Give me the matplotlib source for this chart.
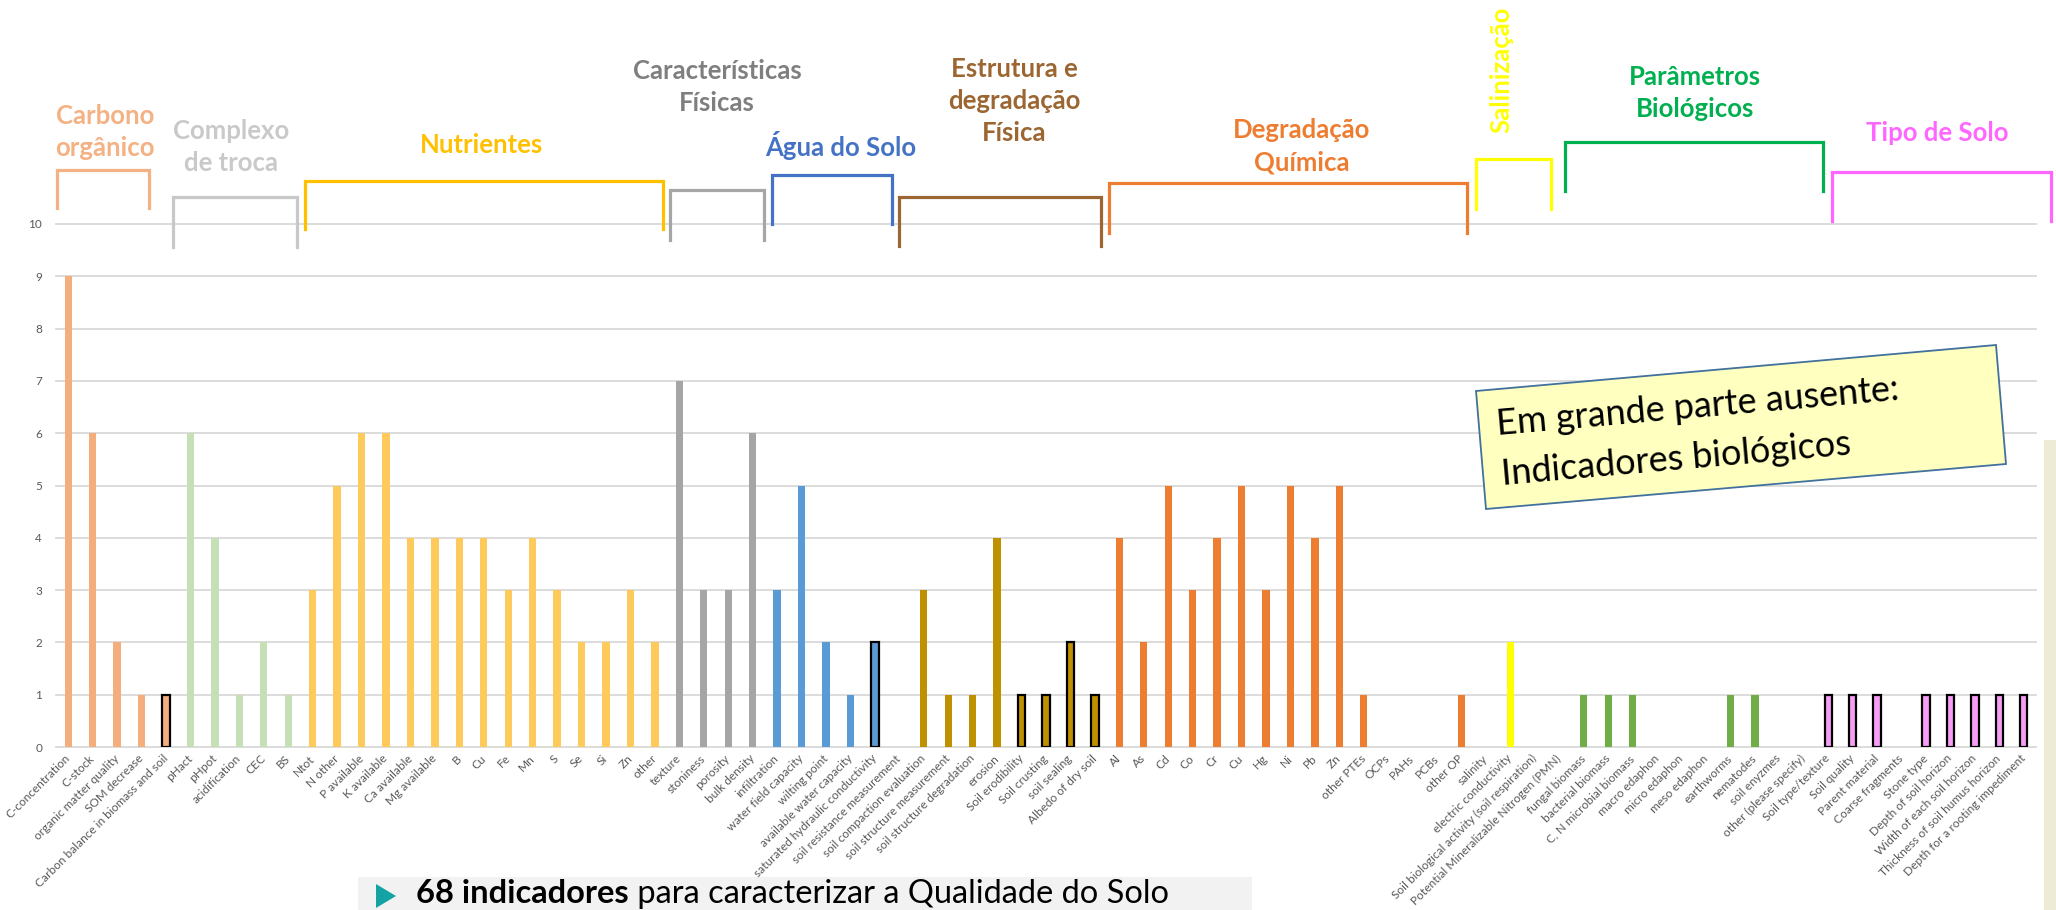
import matplotlib
matplotlib.use("Agg")
import matplotlib.pyplot as plt
from matplotlib.lines import Line2D
from matplotlib.patches import Polygon, Rectangle

plt.rcParams["font.family"] = ["Lato", "DejaVu Sans"]

W, H = 2056, 910

# --- data: number of studies per indicator, grouped by theme ---
carbono_labels = ["C-concentration", "C-stock", "organic matter quality", "SOM decrease",
                  "Carbon balance in biomass and soil"]
carbono_values = [9, 6, 2, 1, 1]

complexo_labels = ["pHact", "pHpot", "acidification", "CEC", "BS"]
complexo_values = [6, 4, 1, 2, 1]

nutrientes_labels = ["Ntot", "N other", "P available", "K available", "Ca available",
                     "Mg available", "B", "Cu", "Fe", "Mn", "S", "Se", "Si", "Zn", "other"]
nutrientes_values = [3, 5, 6, 6, 4, 4, 4, 4, 3, 4, 3, 2, 2, 3, 2]

fisicas_labels = ["texture", "stoniness", "porosity", "bulk density"]
fisicas_values = [7, 3, 3, 6]

agua_labels = ["infiltration", "water field capacity", "wilting point",
               "available water capacity", "saturated hydraulic conductivity"]
agua_values = [3, 5, 2, 1, 2]

estrutura_labels = ["soil resistance measurement", "soil compaction evaluation",
                    "soil structure measurement", "soil structure degradation", "erosion",
                    "Soil erodibility", "Soil crusting", "soil sealing", "Albedo of dry soil"]
estrutura_values = [0, 3, 1, 1, 4, 1, 1, 2, 1]

quimica_labels = ["Al", "As", "Cd", "Co", "Cr", "Cu", "Hg", "Ni", "Pb", "Zn", "other PTEs",
                  "OCPs", "PAHs", "PCBs", "other OP"]
quimica_values = [4, 2, 5, 3, 4, 5, 3, 5, 4, 5, 1, 0, 0, 0, 1]

salin_labels = ["salinity", "electric conductivity"]
salin_values = [0, 2]

bio_labels = ["Soil biological activity (soil respiration)",
              "Potential Mineralizable Nitrogen (PMN)", "fungal biomass", "bacterial biomass",
              "C, N microbial biomass", "macro edaphon", "micro edaphon", "meso edaphon",
              "earthworms", "nematodes", "soil enyzmes", "other (please specify)"]
bio_values = [0, 0, 1, 1, 1, 0, 0, 0, 1, 1, 0, 0]

tipo_labels = ["Soil type/texture", "Soil quality", "Parent material", "Coarse fragments",
               "Stone type", "Depth of soil horizon", "Width of each soil horizon",
               "Thickness of soil humus horizon", "Depth for a rooting impediment"]
tipo_values = [1, 1, 1, 0, 1, 1, 1, 1, 1]

group_titles = ["Carbono\norgânico", "Complexo\nde troca", "Nutrientes",
                "Características\nFísicas", "Água do Solo", "Estrutura e\ndegradação\nFísica",
                "Degradação\nQuímica", "Salinização", "Parâmetros\nBiológicos", "Tipo de Solo"]

outlined = ["Carbon balance in biomass and soil", "saturated hydraulic conductivity",
            "Soil erodibility", "Soil crusting", "soil sealing", "Albedo of dry soil"] + tipo_labels

# --- styles ---
group_data = [
    (carbono_labels, carbono_values), (complexo_labels, complexo_values),
    (nutrientes_labels, nutrientes_values), (fisicas_labels, fisicas_values),
    (agua_labels, agua_values), (estrutura_labels, estrutura_values),
    (quimica_labels, quimica_values), (salin_labels, salin_values),
    (bio_labels, bio_values), (tipo_labels, tipo_values),
]
bar_colors = ["#F4AE7E", "#C5E0B4", "#FFCA5C", "#A5A5A5", "#5B9BD5",
              "#BF9000", "#ED7D31", "#FFFF00", "#70AD47", "#F79DF5"]
bracket_colors = ["#F4B183", "#C8C8C8", "#FFC000", "#A6A6A6", "#4472C4",
                  "#9C6633", "#ED7D31", "#FFFF00", "#00B050", "#FF66FF"]
title_colors = ["#F4B183", "#C9C9C9", "#FFC000", "#7F7F7F", "#4472C4",
                "#9C6633", "#ED7D31", "#FFFF00", "#00B050", "#FF66FF"]
# bracket (left, right, top, leg bottom) and title centre, in pixels of the 2056x910 canvas
brackets = [(57, 149, 170, 208), (173, 297, 197, 247), (305, 663, 181, 229),
            (670, 764, 190, 240), (772, 892, 175, 224), (899, 1101, 197, 246),
            (1109, 1467, 183, 233), (1476, 1551, 159, 209), (1565, 1823, 142, 191),
            (1832, 2051, 172, 221)]
title_pos = [(105, 132), (231, 147), (482, 145), (717, 87), (841, 146), (1014, 101),
             (1302, 146), (1501, 70), (1695, 93), (1937, 133)]


def fx(px):
    return px / W


def fy(py):
    return 1 - py / H


labels, values, colors = [], [], []
for (lab, val), col in zip(group_data, bar_colors):
    labels += lab
    values += val
    colors += [col] * len(lab)
edges = ["black" if l in outlined and v > 0 else "none" for l, v in zip(labels, values)]
lws = [1.6 if e == "black" else 0 for e in edges]
x = list(range(len(labels)))

fig = plt.figure(figsize=(W / 100, H / 100), dpi=100)
ax = fig.add_axes([fx(56), fy(747), (2036 - 56) / W, (747 - 224) / H])

ax.bar(x, values, width=0.3, color=colors, edgecolor=edges, linewidth=lws, zorder=3)
ax.set_xlim(-0.5, len(labels) - 0.5)
ax.set_ylim(0, 10)
ax.set_yticks(range(0, 11))
ax.yaxis.grid(True, color="#D9D9D9", linewidth=1.3, zorder=0)
ax.set_axisbelow(True)
for s in ax.spines.values():
    s.set_visible(False)
ax.set_xticks(x)
ax.set_xticklabels(labels, rotation=45, ha="right", va="center", rotation_mode="anchor",
                   fontsize=8.6, color="#595959")
ax.tick_params(axis="x", length=0, pad=7)
ax.tick_params(axis="y", length=0, pad=10, labelsize=8.5, labelcolor="#595959")
for gl in ax.get_ygridlines():
    gl.set_clip_on(False)

# group brackets and titles
for (l, r, t, b), col in zip(brackets, bracket_colors):
    fig.add_artist(Line2D([fx(l), fx(l), fx(r), fx(r)], [fy(b), fy(t), fy(t), fy(b)],
                          transform=fig.transFigure, color=col, linewidth=2.3,
                          solid_joinstyle="miter"))
for title, (cx, cy), col in zip(group_titles, title_pos, title_colors):
    rot = 90 if title == "Salinização" else 0
    fig.text(fx(cx), fy(cy), title, ha="center", va="center", rotation=rot,
             fontsize=18.5, fontweight="bold", color=col, linespacing=1.4)

# rotated note box
corners = [(1476, 391), (1996, 345), (2006, 464), (1486, 509)]
fig.add_artist(Polygon([(fx(a), fy(b)) for a, b in corners], closed=True,
                       transform=fig.transFigure, facecolor="#FFFFC0",
                       edgecolor="#41719C", linewidth=1.3, zorder=5))
fig.text(fx(1497), fy(435), "Em grande parte ausente:", rotation=5, rotation_mode="anchor",
         ha="left", va="baseline", fontsize=26, color="black", zorder=6)
fig.text(fx(1502), fy(485), "Indicadores biológicos", rotation=5, rotation_mode="anchor",
         ha="left", va="baseline", fontsize=26, color="black", zorder=6)

# side strip and bottom caption (behind the tick labels)
fig.add_artist(Rectangle((fx(2044), 0), fx(12), 1 - 440 / H, transform=fig.transFigure,
                         facecolor="#EDEBD5", edgecolor="none", zorder=-1))
fig.add_artist(Rectangle((fx(358), 0), fx(1252 - 358), 1 - 877 / H, transform=fig.transFigure,
                         facecolor="#F2F2F2", edgecolor="none", zorder=-1))
fig.add_artist(Polygon([(fx(376), fy(884)), (fx(396), fy(896)), (fx(376), fy(908))],
                       closed=True, transform=fig.transFigure, facecolor="#13A3A3",
                       edgecolor="none"))
t1 = fig.text(fx(416), fy(903), "68 indicadores", fontsize=23.5, fontweight="bold",
              va="baseline", ha="left", color="black")
renderer = fig.canvas.get_renderer()
bb = t1.get_window_extent(renderer)
fig.text(bb.x1 / W, fy(903), " para caracterizar a Qualidade do Solo", fontsize=23.5,
         va="baseline", ha="left", color="black")

fig.savefig("out.png", dpi=100)
